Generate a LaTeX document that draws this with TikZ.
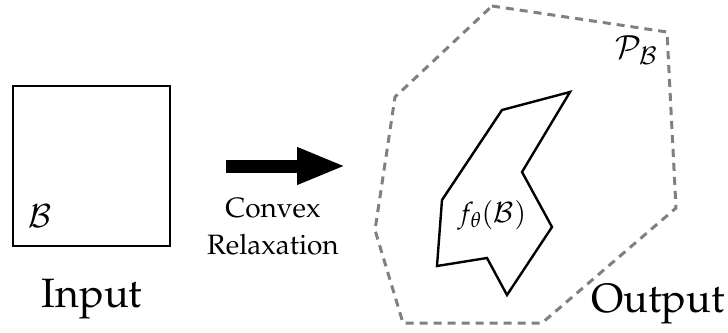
\documentclass[tikz,border=0pt]{standalone}
\usepackage[T1]{fontenc}
\usepackage{amsmath,amssymb}
\usepackage{mathpazo}
\usepackage{tikz}
\usetikzlibrary{positioning, arrows.meta}

\begin{document}
\begin{tikzpicture}[
    x=1pt, y=-1pt,
    set/.style={draw, line width=2.4pt, line join=miter},
    hull/.style={draw=black!50, line width=3pt, dash pattern=on 8pt off 6pt},
    caption/.style={font=\fontsize{41}{46}\selectfont, anchor=base},
    mathlbl/.style={font=\fontsize{32}{36}\selectfont, inner sep=0pt}
]
\useasboundingbox (0,0) rectangle (728,332);

% input box
\draw[set] (13,86) rectangle (170,246);
\node[mathlbl] (blbl) at (40,216) {$\mathcal{B}$};
\node[caption] (input) at (92,307) {Input};

% relaxation arrow
\coordinate (arrowstart) at (226,166);
\coordinate (arrowend) at (346,166);
\draw[line width=13pt, -{Triangle[length=49pt, width=34pt]}] (arrowstart) -- (arrowend);
\node[font=\fontsize{28}{37}\selectfont, align=center, anchor=north] (relax) at (273,195) {Convex\\Relaxation};

% output sets
\draw[hull] (492,6) -- (667,32) -- (676,208) -- (542,323) -- (403,323)
    -- (375,230) -- (395,97) -- cycle;
\draw[set] (570,92) -- (502,110) -- (442,200) -- (437,266) -- (487,258)
    -- (507,295) -- (552,227) -- (522,172) -- cycle;
\node[mathlbl] (plbl) at (636,50) {$\mathcal{P}_{\mathcal{B}}$};
\node[mathlbl, font=\fontsize{28}{32}\selectfont] (flbl) at (492,215) {$f_\theta(\mathcal{B})$};
\node[caption] (output) at (658,312) {Output};

\end{tikzpicture}
\end{document}
